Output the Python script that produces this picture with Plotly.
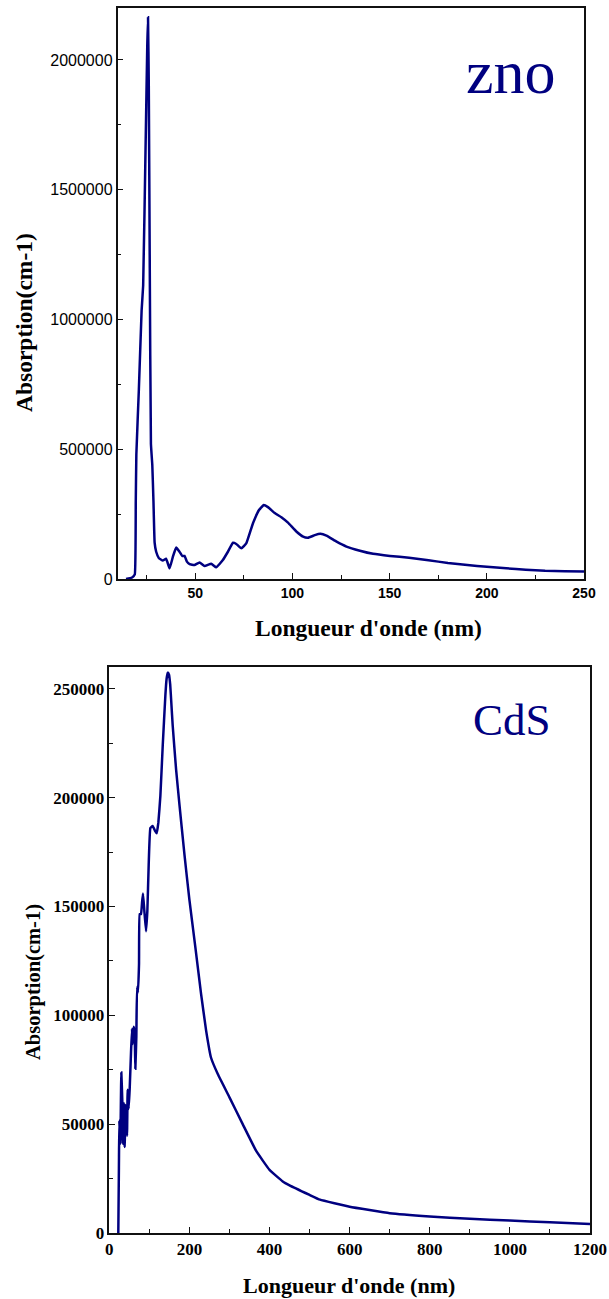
import plotly.graph_objects as go

# ---------------- data ----------------
zno_wavelength = [14.4, 17.5, 18.9, 19.4, 19.7, 21.0, 22.4, 23.2, 24.5, 25.3, 25.7, 26.1, 26.6, 27.2,
                  27.9, 28.5, 29.1, 29.9, 31.3, 33.3, 35.0, 36.8, 38.5, 40.2, 41.9, 43.3, 44.5,
                  45.7, 47.1, 49.6, 52.2, 54.8, 58.2, 60.8, 64.2, 66.8, 69.4, 71.1, 73.7, 76.3,
                  79.7, 82.8, 85.2, 87.4, 90.9, 94.3, 97.7, 102.0, 105.5, 108.0, 111.5, 114.4,
                  117.5, 122.7, 127.8, 134.7, 141.5, 150.2, 160, 170, 180, 190, 200, 210, 220,
                  230, 240, 250]
zno_absorption = [0, 6000, 18000, 300000, 480000, 732000, 1033000, 1131000, 1690000, 2050000, 2164000,
                  1900000, 1200000, 520000, 440000, 300000, 140000, 105000, 80000, 71000, 78000,
                  41000, 86000, 121000, 105000, 89000, 89000, 67000, 57000, 54000, 64000, 50000,
                  59000, 45000, 73000, 105000, 140000, 135000, 118000, 138000, 215000, 266000,
                  285000, 277000, 254000, 238000, 217000, 183000, 163000, 159000, 169000, 174000,
                  167000, 144000, 125000, 109000, 97000, 89000, 82000, 72000, 62000, 54000, 47000,
                  41000, 36000, 32000, 30000, 29000]

cds_wavelength = [22.5, 24, 25, 27.5, 30, 32.5, 34, 36.7, 38.3, 40.8, 44.2, 45.8, 48.3, 50.8, 54.2,
                  56.7, 58.3, 60.8, 63.3, 65, 67.5, 69.2, 71.7, 74.2, 75.8, 79.2, 81.7, 84.2, 87.5,
                  91.7, 95, 98.3, 102.5, 108.3, 114.2, 118.3, 122.5, 127.5, 133.3, 140, 143, 146,
                  149, 152, 155, 158.3, 166.7, 175, 187.5, 200, 215, 229, 241.7, 254, 270.8, 300,
                  333, 366.7, 400, 433, 450, 500, 526, 600, 700, 800, 900, 1000, 1100, 1200]
cds_absorption = [0, 30000, 51700, 41000, 73700, 60500, 41000, 59600, 39500, 58800, 44700, 65800,
                  57000, 65800, 83000, 93800, 86800, 94700, 92000, 75400, 90000, 113000, 110500,
                  123700, 146500, 146500, 151700, 156000, 148000, 138600, 148000, 169000, 186000,
                  187000, 184700, 183600, 188600, 200800, 223600, 247000, 254500, 257500, 256500,
                  252000, 243000, 233000, 213000, 197000, 174000, 153000, 131000, 110000, 93000,
                  80500, 73000, 62300, 50000, 37700, 29000, 23700, 21900, 17500, 15300, 12100,
                  9100, 7600, 6500, 5700, 4900, 4100]

zno_yticks = [0, 500000, 1000000, 1500000, 2000000]
zno_xticks = [50, 100, 150, 200, 250]
cds_yticks = [0, 50000, 100000, 150000, 200000, 250000]
cds_xticks = [0, 200, 400, 600, 800, 1000, 1200]

W, H = 609, 1299
NAVY = "#000080"
SERIF = "Liberation Serif, Times New Roman, serif"
SANS = "Liberation Sans, Arial, sans-serif"

fig = go.Figure()
fig.add_trace(go.Scatter(x=zno_wavelength, y=zno_absorption, mode="lines",
                         line=dict(color=NAVY, width=2.5, shape="spline", smoothing=0.3),
                         xaxis="x", yaxis="y", showlegend=False))
fig.add_trace(go.Scatter(x=cds_wavelength, y=cds_absorption, mode="lines",
                         line=dict(color=NAVY, width=2.5, shape="spline", smoothing=0.3),
                         xaxis="x2", yaxis="y2", showlegend=False))

axis_common = dict(showgrid=False, zeroline=False, showline=True, linecolor="#111",
                   linewidth=1.5, mirror=True, ticks="inside", tickcolor="#111",
                   ticklen=6, tickwidth=1.2, automargin=False)

fig.update_layout(
    width=W, height=H, margin=dict(l=0, r=0, t=0, b=0, pad=0, autoexpand=False),
    showlegend=False,
    paper_bgcolor="white", plot_bgcolor="white",
    xaxis=dict(domain=[117.5 / W, 584 / W], range=[10, 250], anchor="y",
               tickvals=zno_xticks, ticktext=[str(v) for v in zno_xticks],
               tickfont=dict(family=SANS, size=14, color="black", weight="bold"),
               minor=dict(ticks="inside", tickvals=[25, 75, 125, 175, 225], ticklen=4,
                          tickcolor="#111", tickwidth=1.2),
               **axis_common),
    yaxis=dict(domain=[1 - 579 / H, 1 - 8 / H], range=[0, 2200000], anchor="x",
               tickvals=zno_yticks, ticktext=[str(v) for v in zno_yticks],
               tickfont=dict(family=SANS, size=16, color="black"),
               minor=dict(ticks="inside", tickvals=[250000, 750000, 1250000, 1750000], ticklen=4,
                          tickcolor="#111", tickwidth=1.2),
               **axis_common),
    xaxis2=dict(domain=[109.3 / W, 590 / W], range=[0, 1200], anchor="y2",
                tickvals=cds_xticks, ticktext=[str(v) for v in cds_xticks],
                tickfont=dict(family=SERIF, size=17, color="black", weight="bold"),
                minor=dict(ticks="inside", tickvals=[100, 300, 500, 700, 900, 1100], ticklen=4,
                           tickcolor="#111", tickwidth=1.2),
                **axis_common),
    yaxis2=dict(domain=[1 - 1233 / H, 1 - 667 / H], range=[0, 260000], anchor="x2",
                tickvals=cds_yticks, ticktext=[str(v) for v in cds_yticks],
                tickfont=dict(family=SERIF, size=17, color="black", weight="bold"),
                minor=dict(ticks="inside", tickvals=[25000, 75000, 125000, 175000, 225000], ticklen=4,
                           tickcolor="#111", tickwidth=1.2),
                **axis_common),
)

def ann(text, x, y, size, color="black", bold=False, angle=0, family=SERIF):
    fig.add_annotation(text=text, x=x / W, y=1 - y / H, xref="paper", yref="paper",
                       xanchor="center", yanchor="middle", showarrow=False, textangle=angle,
                       font=dict(family=family, size=size, color=color,
                                 weight="bold" if bold else "normal"))

ann("zno", 511, 72, 62, color=NAVY)
ann("CdS", 511.5, 720, 45, color=NAVY)
ann("Longueur d'onde (nm)", 368, 628, 23.5, bold=True)
ann("Absorption(cm-1)", 24, 323, 23.5, bold=True, angle=-90)
ann("Longueur d'onde (nm)", 349, 1285, 22, bold=True)
ann("Absorption(cm-1)", 33, 982, 20.5, bold=True, angle=-90)

fig.write_html("out.html")
